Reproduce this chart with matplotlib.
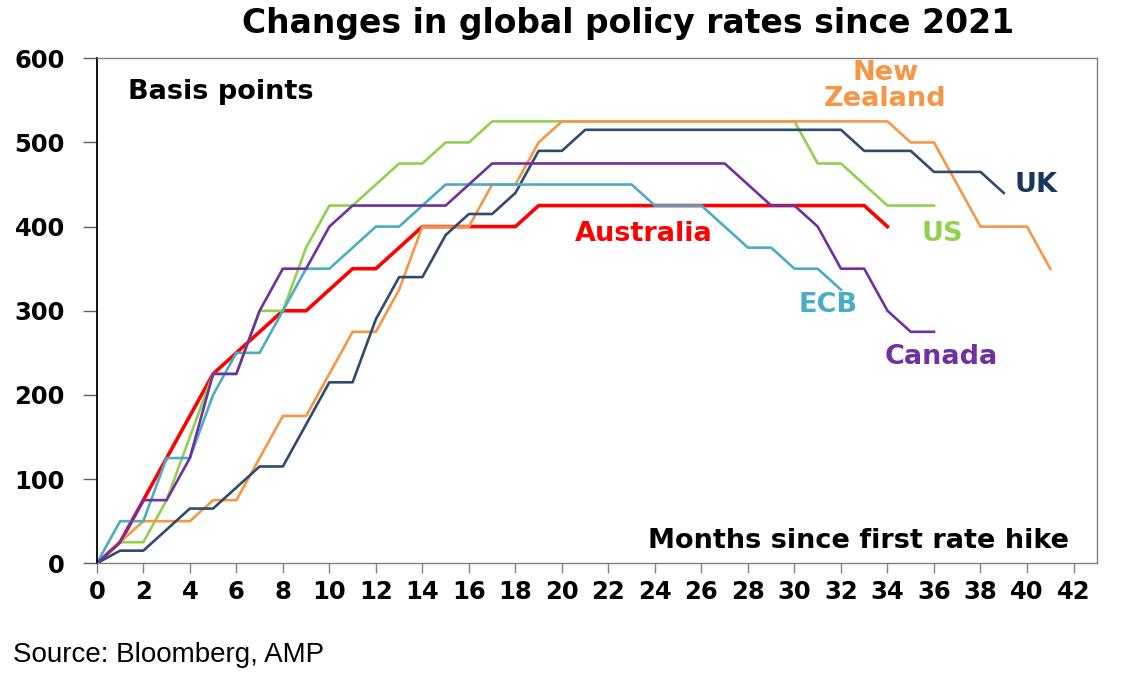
import matplotlib.pyplot as plt

# months since first hike (0 = month before first hike)
aus = [0, 25, 75, 125, 175, 225, 250, 275, 300, 300, 325, 350, 350, 375, 400, 400, 400, 400, 400,
       425, 425, 425, 425, 425, 425, 425, 425, 425, 425, 425, 425, 425, 425, 425, 400]
us = [0, 25, 25, 75, 150, 225, 225, 300, 300, 375, 425, 425, 450, 475, 475, 500, 500, 525,
      525, 525, 525, 525, 525, 525, 525, 525, 525, 525, 525, 525, 525, 475, 475, 450, 425, 425, 425]
nz = [0, 25, 50, 50, 50, 75, 75, 125, 175, 175, 225, 275, 275, 325, 400, 400, 400, 450, 450, 500, 525,
      525, 525, 525, 525, 525, 525, 525, 525, 525, 525, 525, 525, 525, 525,
      500, 500, 450, 400, 400, 400, 350]
uk = [0, 15, 15, 40, 65, 65, 90, 115, 115, 165, 215, 215, 290, 340, 340, 390, 415, 415, 440, 490, 490, 515,
      515, 515, 515, 515, 515, 515, 515, 515, 515, 515, 515, 490, 490, 490, 465, 465, 465, 440]
ecb = [0, 50, 50, 125, 125, 200, 250, 250, 300, 350, 350, 375, 400, 400, 425, 450,
       450, 450, 450, 450, 450, 450, 450, 450, 425, 425, 425, 400, 375, 375, 350, 350, 325]
canada = [0, 25, 75, 75, 125, 225, 225, 300, 350, 350, 400, 425, 425, 425, 425, 425, 450, 475,
          475, 475, 475, 475, 475, 475, 475, 475, 475, 475, 450, 425, 425, 400, 350, 350, 300, 275, 275]

series = [
    ("Australia", aus, "#FF0000", 2.6),
    ("US", us, "#92D050", 1.9),
    ("New Zealand", nz, "#F79646", 1.9),
    ("UK", uk, "#2F4B6E", 1.9),
    ("ECB", ecb, "#4BACC6", 1.9),
    ("Canada", canada, "#7030A0", 1.9),
]

fig = plt.figure(figsize=(11.22, 6.84), dpi=100)
ax = fig.add_axes([0.0863, 0.1765, 0.8912, 0.7383])

for name, vals, col, lw in series:
    ax.plot(range(len(vals)), vals, color=col, lw=lw, solid_joinstyle="round")

ax.set_xlim(0, 43)
ax.set_ylim(0, 600)
ax.set_xticks(range(0, 43, 2))
ax.set_yticks(range(0, 601, 100))

tick_font = dict(family="DejaVu Sans", weight="bold", size=17.5)
ax.set_xticklabels([str(t) for t in range(0, 43, 2)], **tick_font)
ax.set_yticklabels([str(t) for t in range(0, 601, 100)], **tick_font)
ax.tick_params(axis="x", direction="out", length=7, width=1, color="#808080", pad=5)
ax.tick_params(axis="y", direction="out", length=10, width=1, color="#606060", pad=13)

for s in ["top", "right", "bottom"]:
    ax.spines[s].set_color("#808080")
    ax.spines[s].set_linewidth(1)
ax.spines["left"].set_color("black")
ax.spines["left"].set_linewidth(1.3)

lbl = dict(family="DejaVu Sans", weight="bold", size=19.5, ha="center", va="center")
ax.text(33.9, 567, "New\nZealand", color="#F79646", linespacing=1.0, **lbl)
ax.text(40.4, 450, "UK", color="#17375E", **lbl)
ax.text(36.35, 391, "US", color="#92D050", **lbl)
ax.text(23.5, 391, "Australia", color="#FF0000", **lbl)
ax.text(31.45, 307, "ECB", color="#4BACC6", **lbl)
ax.text(36.3, 245, "Canada", color="#7030A0", **lbl)

ax.text(1.34, 560, "Basis points", family="DejaVu Sans", weight="bold", size=19.5,
        ha="left", va="center", color="black")
ax.text(41.8, 26.5, "Months since first rate hike", family="DejaVu Sans", weight="bold", size=19.5,
        ha="right", va="center", color="black")

fig.text(0.5597, 0.966, "Changes in global policy rates since 2021", family="DejaVu Sans",
         weight="bold", size=23.8, ha="center", va="center", color="black")
fig.text(0.012, 0.042, "Source: Bloomberg, AMP", family="Liberation Sans", size=20,
         ha="left", va="center", color="black")

fig.savefig("out.png", dpi=100)
